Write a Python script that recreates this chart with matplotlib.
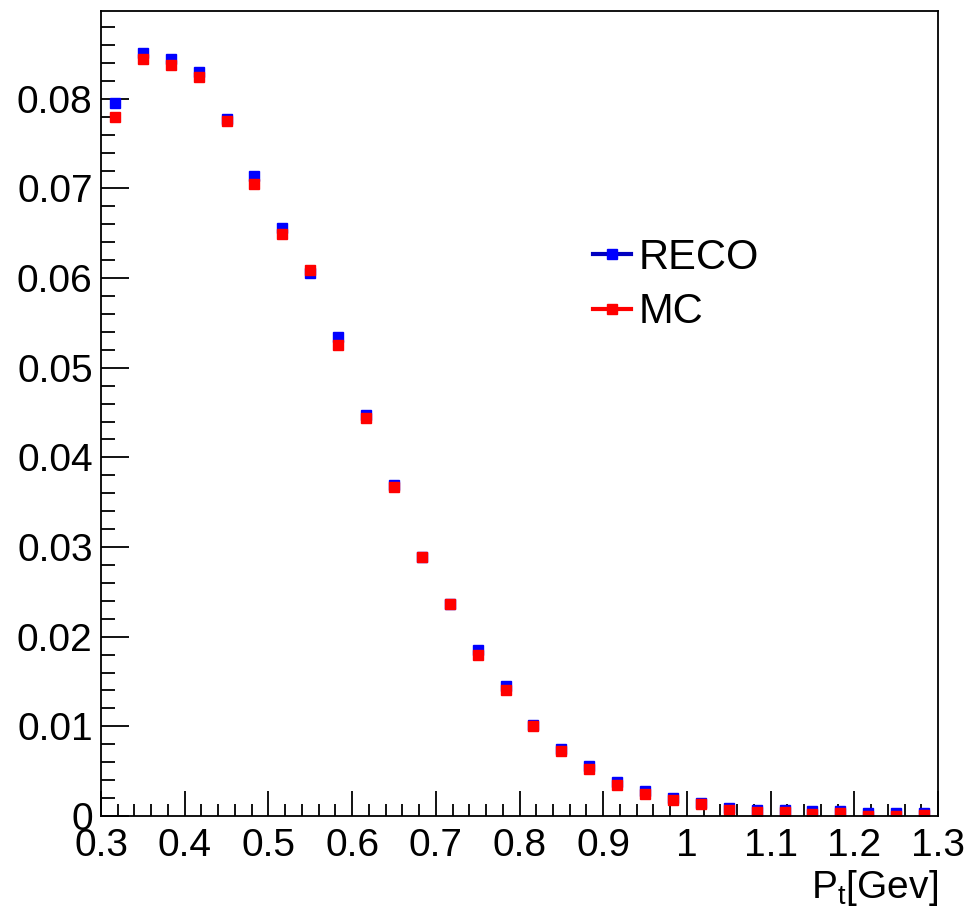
import numpy as np
import matplotlib
matplotlib.use("Agg")
import matplotlib.pyplot as plt
from matplotlib.lines import Line2D
from matplotlib.ticker import MultipleLocator, FuncFormatter

plt.rcParams['font.family'] = ['Liberation Sans', 'DejaVu Sans']
plt.rcParams['mathtext.fontset'] = 'custom'
plt.rcParams['mathtext.rm'] = 'Liberation Sans'

# ---- data ----
pt_low, pt_high, n_bins = 0.3, 1.3, 30
reco = [0.0795, 0.0851, 0.0845, 0.0830, 0.0777, 0.0714, 0.0656, 0.0606, 0.0534, 0.0447,
        0.0369, 0.0289, 0.0237, 0.0185, 0.0145, 0.0101, 0.0075, 0.0056, 0.0038, 0.0028,
        0.0020, 0.0015, 0.0009, 0.0007, 0.0007, 0.0006, 0.0006, 0.0003, 0.0003, 0.0003]
mc = [0.0780, 0.0844, 0.0838, 0.0824, 0.0775, 0.0705, 0.0649, 0.0609, 0.0525, 0.0444,
      0.0367, 0.0289, 0.0237, 0.0180, 0.0141, 0.0100, 0.0073, 0.0052, 0.0035, 0.0025,
      0.0018, 0.0013, 0.0007, 0.0005, 0.0004, 0.0002, 0.0003, 0.0000, 0.0000, 0.0001]
series_labels = ["RECO", "MC"]
x_label = r"P$_\mathregular{t}$[Gev]"

edges = np.linspace(pt_low, pt_high, n_bins + 1)
centers = 0.5 * (edges[:-1] + edges[1:])

fig = plt.figure(figsize=(9.69, 9.10), dpi=100)
ax = fig.add_axes([101/969, 94/910, 837/969, 805/910])

ax.plot(centers, reco, ls='none', marker='s', ms=7.2, color='#0000ff', mec='#0000ff')
ax.plot(centers, mc, ls='none', marker='s', ms=6.5, color='#ff0000', mec='#ff0000')

ax.set_xlim(pt_low, pt_high)
ax.set_ylim(0, 0.0898)

ax.xaxis.set_major_locator(MultipleLocator(0.1))
ax.xaxis.set_minor_locator(MultipleLocator(0.02))
ax.yaxis.set_major_locator(MultipleLocator(0.01))
ax.yaxis.set_minor_locator(MultipleLocator(0.002))
fmt = FuncFormatter(lambda v, p: ('%g' % round(v, 4)))
ax.xaxis.set_major_formatter(fmt)
ax.yaxis.set_major_formatter(fmt)

ax.tick_params(axis='both', which='both', direction='in', top=False, right=False,
               width=1.3, color='black', labelsize=28)
ax.tick_params(axis='y', which='major', length=20, pad=6)
ax.tick_params(axis='y', which='minor', length=10)
ax.tick_params(axis='x', which='major', length=18, pad=9)
ax.tick_params(axis='x', which='minor', length=9)
for s in ax.spines.values():
    s.set_linewidth(1.3)
    s.set_color('black')

ax.set_xlabel(x_label, fontsize=28)
ax.xaxis.set_label_coords(1.0, -0.065)
ax.xaxis.label.set_horizontalalignment('right')

handles = [Line2D([], [], color='#0000c0', lw=3, marker='s', ms=7.2, mfc='#0000ff', mec='#0000ff'),
           Line2D([], [], color='#ff0000', lw=3, marker='s', ms=6.5, mfc='#ff0000', mec='#ff0000')]
fig.legend(handles, series_labels, loc='center left', bbox_to_anchor=(593/969, (910-285)/910),
           bbox_transform=fig.transFigure, frameon=False, fontsize=30, handlelength=0.9,
           handletextpad=0.2, labelspacing=0.34, borderpad=0, borderaxespad=0)

fig.savefig('out.png', dpi=100)
